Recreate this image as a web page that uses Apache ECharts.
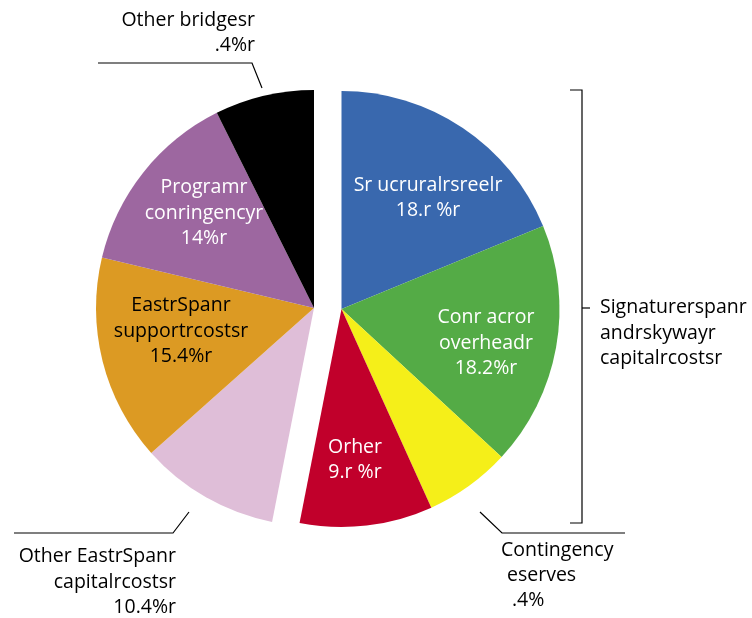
<!DOCTYPE html>
<html>
<head>
<meta charset="utf-8">
<script src="https://cdn.jsdelivr.net/npm/echarts@6/dist/echarts.min.js"></script>
<style>html,body{margin:0;padding:0;background:#fff;}#c{width:752px;height:618px;}</style>
</head>
<body>
<div id="c"></div>
<script>
// Signature span and skyway group (right half), clockwise from top
const rightNames = ['Sr ucruralrsreelr', 'Conr acror overheadr', 'Contingency eserves', 'Orher'];
const rightValues = [18.9, 18.2, 6.4, 9.9];
const rightLabels = [['Sr ucruralrsreelr', '18.r %r'], ['Conr acror', 'overheadr', '18.2%r'], ['Contingency', 'eserves', '.4%'], ['Orher', '9.r %r']];
const rightColors = ['#3968ae', '#54ab46', '#f5ef19', '#c1002b'];
// Left half, clockwise from bottom
const leftNames = ['Other EastrSpanr capitalrcostsr', 'EastrSpanr supportrcostsr', 'Programr conringencyr', 'Other bridgesr'];
const leftValues = [10.4, 15.4, 14, 7.4];
const leftLabels = [['Other EastrSpanr', 'capitalrcostsr', '10.4%r'], ['EastrSpanr', 'supportrcostsr', '15.4%r'], ['Programr', 'conringencyr', '14%r'], ['Other bridgesr', '.4%r']];
const leftColors = ['#dfbed8', '#dc9a23', '#9d67a0', '#000000'];
const groupLabel = ['Signaturerspanr', 'andrskywayr', 'capitalrcostsr'];

const sum = a => a.reduce((s, v) => s + v, 0);
const FONT = '"Open Sans"';
const FS = 19.5;
const LH = 25.5;

const rightData = rightNames.map((n, i) => ({ name: n, value: rightValues[i], itemStyle: { color: rightColors[i] } }));
rightData.push({ name: 'gapR', value: sum(leftValues), itemStyle: { color: 'rgba(0,0,0,0)' } });
const leftData = [{ name: 'gapL', value: sum(rightValues), itemStyle: { color: 'rgba(0,0,0,0)' } }];
leftNames.forEach((n, i) => leftData.push({ name: n, value: leftValues[i], itemStyle: { color: leftColors[i] } }));

function txt(lines, x, y, color, align) {
  return {
    type: 'text', x: x, y: y, silent: true, z: 100,
    style: {
      text: lines.join('\n'), fill: color, font: FS + 'px ' + FONT,
      align: align || 'center', verticalAlign: 'middle', lineHeight: LH
    }
  };
}
function one(s, x, y) {
  return { type: 'text', x: x, y: y, silent: true, z: 100,
    style: { text: s, fill: '#000', font: FS + 'px ' + FONT, align: 'left', verticalAlign: 'middle' } };
}
function line(points) {
  return { type: 'polyline', silent: true, z: 100, shape: { points: points }, style: { stroke: '#000', lineWidth: 1.2, fill: null } };
}

const graphics = [
  txt(rightLabels[0], 428, 198, '#fff'),
  txt(rightLabels[1], 486, 343, '#fff'),
  txt(rightLabels[3], 355, 460, '#fff'),
  txt(leftLabels[2], 204, 213, '#fff'),
  txt(leftLabels[1], 181, 331, '#000'),
  txt(leftLabels[3], 255, 33, '#000', 'right'),
  txt(leftLabels[0], 176, 582, '#000', 'right'),
  one(rightLabels[2][0], 501, 550),
  one(rightLabels[2][1], 507, 575),
  one(rightLabels[2][2], 512, 600),
  txt(groupLabel, 600, 333, '#000', 'left'),
  line([[98, 63], [252, 63], [262, 88]]),
  line([[14, 533], [173, 533], [189, 512]]),
  line([[480, 512], [502, 533], [625, 533]]),
  line([[570, 90], [582, 90], [582, 523], [570, 523]]),
  line([[582, 308], [590, 308]])
];

const chart = echarts.init(document.getElementById('c'), null, { renderer: 'canvas' });
chart.setOption({
  animation: false,
  backgroundColor: '#fff',
  series: [
    {
      type: 'pie', center: [341.5, 309], radius: [0, 218], startAngle: 90, clockwise: true,
      silent: true, label: { show: false }, labelLine: { show: false },
      itemStyle: { borderWidth: 0 }, emphasis: { disabled: true },
      data: rightData
    },
    {
      type: 'pie', center: [314, 308], radius: [0, 218], startAngle: 90, clockwise: true,
      silent: true, label: { show: false }, labelLine: { show: false },
      itemStyle: { borderWidth: 0 }, emphasis: { disabled: true },
      data: leftData
    }
  ],
  graphic: { elements: graphics }
});
</script>
</body>
</html>
